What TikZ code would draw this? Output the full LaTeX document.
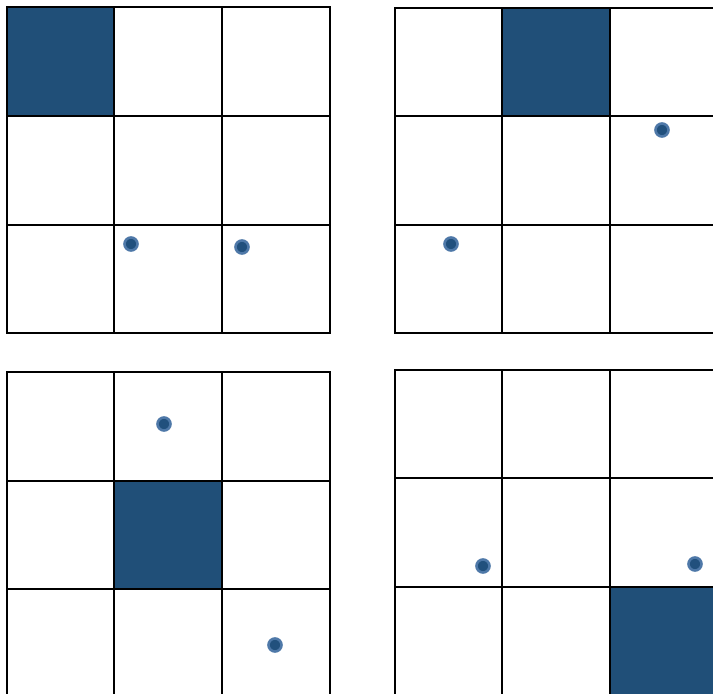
\documentclass[tikz,border=0pt]{standalone}
\begin{document}
\begin{tikzpicture}[x=1pt,y=-1pt,
  gridline/.style={line width=2pt,black},
  cellfill/.style={fill=cellblue},
  dotstyle/.style={fill=dotdark,draw=dotring,line width=2.6pt}]
\definecolor{cellblue}{RGB}{32,79,120}
\definecolor{dotdark}{RGB}{33,80,125}
\definecolor{dotring}{RGB}{78,120,168}
\useasboundingbox[fill=white] (0,0) rectangle (713,694);
% grid 1
\fill[cellfill] (7,7) rectangle (114,116);
\draw[gridline] (7,7) rectangle (330,333);
\draw[gridline] (114,7) -- (114,333) (222,7) -- (222,333) (7,116) -- (330,116) (7,225) -- (330,225);
% grid 2
\fill[cellfill] (502,8) rectangle (610,116);
\draw[gridline] (395,8) rectangle (717,333);
\draw[gridline] (502,8) -- (502,333) (610,8) -- (610,333) (395,116) -- (717,116) (395,225) -- (717,225);
% grid 3
\fill[cellfill] (114,481) rectangle (222,589);
\draw[gridline] (7,372) rectangle (330,698);
\draw[gridline] (114,372) -- (114,698) (222,372) -- (222,698) (7,481) -- (330,481) (7,589) -- (330,589);
% grid 4
\fill[cellfill] (610,587) rectangle (717,698);
\draw[gridline] (395,370) rectangle (717,698);
\draw[gridline] (502,370) -- (502,698) (610,370) -- (610,698) (395,478) -- (717,478) (395,587) -- (717,587);
% dots
\foreach \p in {(131,244),(242,247),(662,130),(451,244),(164,424),(275,645),(483,566),(695,564)}
  \draw[dotstyle] \p circle (6.5);
\end{tikzpicture}
\end{document}
